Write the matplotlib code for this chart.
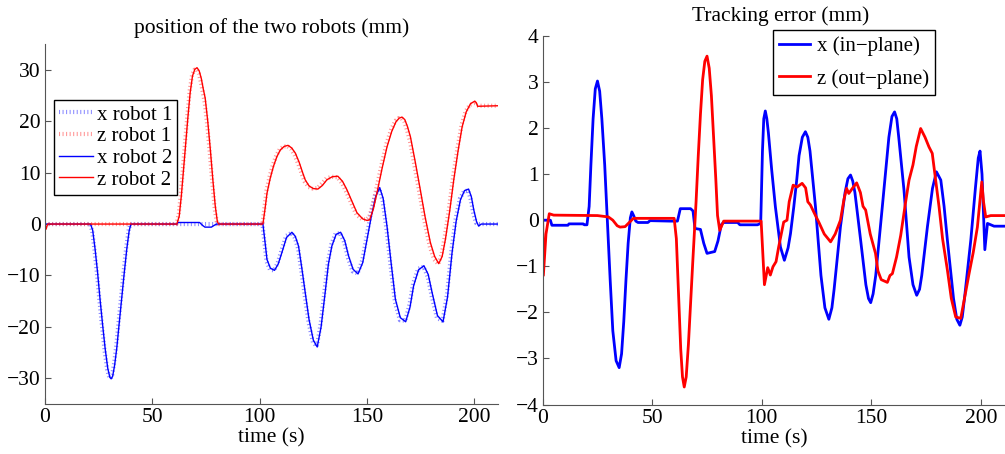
import matplotlib
matplotlib.use("Agg")
import matplotlib.pyplot as plt

plt.rcParams['font.family'] = ['Liberation Serif', 'DejaVu Serif']
plt.rcParams['axes.unicode_minus'] = True

# POSITION DATA (left panel), (time s, mm) pairs
x_robot2 = [(0, 0), (21.2, 0), (22.2, -1.2), (23.3, -4.8), (24.5, -9.5), (25.6, -14.5),
            (26.8, -19.5), (28, -24.2), (29.2, -28), (30.2, -29.8), (30.8, -30.1),
            (31.5, -29.6), (32.4, -27.5), (33.4, -24.2), (34.5, -19.5), (35.7, -14.5),
            (36.9, -9.5), (38.1, -4.8), (39.2, -1.3), (40, 0), (61.4, 0), (62, 0.3),
            (72, 0.3), (73.5, -0.3), (74.5, -0.6), (77.5, -0.6), (79, -0.2), (80, 0),
            (101.5, 0), (102.4, -3.2), (103.4, -6.9), (105, -8.6), (106.9, -9.0),
            (108.6, -7.8), (110.3, -5.6), (112.5, -2.6), (115, -1.6), (116.6, -2.4),
            (118.1, -4.3), (119.6, -8.5), (121.2, -13.3), (123, -18.6), (125, -22.6),
            (126.8, -23.9), (128.6, -20.0), (130.5, -13.3), (132, -7.8), (133.6, -4.3),
            (135.6, -2.0), (137.7, -1.6), (139.6, -3.2), (141.4, -6.2), (143.5, -8.8),
            (145.8, -9.7), (148, -7.5), (150, -3.0), (152, 1.5), (154, 5.3), (155.9, 7.1),
            (157.5, 5.0), (159.3, -0.4), (161.2, -7.5), (163.2, -14.6), (165.5, -18.2),
            (168, -19.0), (170, -16.2), (171.7, -12.0), (174, -8.9), (176.5, -8.1),
            (178.5, -9.8), (180.3, -13.3), (182.8, -17.8), (185.4, -19.0), (187.5, -14.2),
            (189.6, -5.6), (191.5, 0.5), (193.5, 4.7), (195.4, 6.5), (197.3, 6.8),
            (198.6, 5.3), (199.7, 2.8), (201, 0.5), (202, -0.4), (203.2, 0), (211, 0)]

z_robot2 = [(0, 0), (0.5, -1.0), (1.2, 0), (61.4, 0), (62.5, 1.5), (63.5, 5.5), (64.5, 10.5),
            (65.5, 15.5), (66.5, 20.5), (67.6, 25.5), (68.7, 28.8), (69.8, 30.1),
            (70.8, 30.4), (71.8, 29.8), (72.8, 28.3), (73.7, 26.3), (74.6, 24.5),
            (75.8, 20), (77, 14.5), (78.2, 8.5), (79.3, 3.5), (80.3, 0.4), (81, 0),
            (101.5, 0), (102.5, 3.0), (103.4, 6.0), (104.9, 8.9), (106.4, 11.2),
            (108, 13.1), (109.6, 14.4), (111.4, 15.1), (113.2, 15.3), (114.9, 14.8),
            (116.6, 13.8), (118.4, 12.0), (120, 10.0), (121.2, 8.6), (123, 7.4), (125, 6.9),
            (127.1, 6.8), (129.2, 7.5), (131.3, 8.6), (133.8, 9.2), (136.4, 9.3),
            (138.6, 8.3), (140.6, 6.7), (143, 4.4), (145.3, 2.2), (148, 1.0), (150, 0.7),
            (151.2, 0.8), (153, 3.0), (154.6, 6.0), (157, 10.8), (159.3, 15.0),
            (161.5, 18.0), (163.5, 19.9), (165, 20.6), (166.3, 20.8), (167.6, 20.3),
            (168.8, 19.0), (170.2, 17.0), (172.5, 12.0), (174.8, 6.7), (177, 1.5),
            (179.5, -3.6), (181.5, -6.3), (183.4, -7.7), (185, -6.3), (186.5, -3.0),
            (188.5, 2.5), (190.4, 8.6), (192.4, 14.2), (194.3, 18.9), (196.2, 21.8),
            (198.2, 23.4), (200.2, 23.9), (200.9, 23.6), (201.5, 22.9), (211, 23.0)]

x_robot1 = [(0, 0), (21.0, 0), (22.0, -1.4), (23.1, -5.2), (24.3, -10.1), (25.4, -15.1),
            (26.6, -20.1), (27.8, -24.8), (29.0, -28.4), (30.0, -29.9), (30.6, -30.0),
            (31.3, -29.3), (32.2, -27.0), (33.2, -23.6), (34.3, -18.9), (35.5, -13.9),
            (36.7, -8.9), (37.9, -4.3), (39.0, -1.0), (39.8, 0), (101.3, 0),
            (102.2, -3.6), (103.2, -7.3), (104.8, -8.9), (106.7, -9.0), (108.4, -7.5),
            (110.1, -5.2), (112.3, -2.3), (114.8, -1.7), (116.4, -2.7), (117.9, -4.8),
            (119.4, -9.1), (121.0, -14.0), (122.8, -19.2), (124.8, -23.0), (126.6, -23.8),
            (128.4, -19.4), (130.3, -12.6), (131.8, -7.3), (133.4, -3.9), (135.4, -1.8),
            (137.5, -1.8), (139.4, -3.6), (141.2, -6.7), (143.3, -9.2), (145.6, -9.6),
            (147.8, -7.0), (149.8, -2.4), (151.8, 2.1), (153.8, 5.8), (155.7, 6.9),
            (157.3, 4.4), (159.1, -1.1), (161.0, -8.2), (163.0, -15.2), (165.3, -18.7),
            (167.8, -18.8), (169.8, -15.6), (171.5, -11.5), (173.8, -8.7), (176.3, -8.3),
            (178.3, -10.3), (180.1, -14.0), (182.6, -18.3), (185.2, -18.8), (187.3, -13.5),
            (189.4, -4.8), (191.3, 1.1), (193.3, 5.0), (195.2, 6.4), (197.1, 6.5),
            (198.4, 4.6), (199.5, 2.0), (200.8, 0.2), (201.6, 0), (211, 0)]

z_robot1 = [(0, 0), (61.2, 0), (62.3, 1.9), (63.3, 6.1), (64.3, 11.2), (65.3, 16.2),
            (66.3, 21.1), (67.4, 26.0), (68.5, 29.0), (69.6, 30.0), (70.6, 30.1),
            (71.6, 29.3), (72.6, 27.6), (73.5, 25.6), (74.4, 23.6), (75.6, 19.1),
            (76.8, 13.6), (78.0, 7.7), (79.1, 2.8), (80.1, 0.2), (80.8, 0), (101.3, 0),
            (102.3, 3.5), (103.2, 6.6), (104.7, 9.4), (106.2, 11.6), (107.8, 13.4),
            (109.4, 14.6), (111.2, 15.1), (113.0, 15.1), (114.7, 14.5), (116.4, 13.3),
            (118.2, 11.4), (119.8, 9.5), (121.0, 8.2), (122.8, 7.2), (124.8, 6.9),
            (126.9, 7.0), (129.0, 7.9), (131.1, 8.9), (133.6, 9.2), (136.2, 9.1),
            (138.4, 7.9), (140.4, 6.2), (142.8, 3.9), (145.1, 1.8), (147.8, 0.9),
            (149.8, 0.9), (151.0, 1.4), (152.8, 3.8), (154.4, 7.0), (156.8, 11.6),
            (159.1, 15.7), (161.3, 18.5), (163.3, 20.1), (164.8, 20.6), (166.1, 20.5),
            (167.4, 19.8), (168.6, 18.3), (170.0, 16.1), (172.3, 10.9), (174.6, 5.6),
            (176.8, 0.5), (179.3, -4.5), (181.3, -6.9), (183.2, -7.8), (184.8, -5.8),
            (186.3, -2.2), (188.3, 3.5), (190.2, 9.5), (192.2, 15.0), (194.1, 19.4),
            (196.0, 22.0), (198.0, 23.2), (200.0, 23.3), (201.0, 23.0), (211, 23.0)]

# TRACKING ERROR DATA (right panel), (time s, mm) pairs
x_err = [(0, 0), (3.5, 0), (4.2, -0.11), (11.5, -0.11), (12, -0.08), (18.5, -0.08),
         (19, -0.1), (20.2, -0.1), (21.2, 0.3), (22, 1.2), (23, 2.2), (24, 2.85),
         (25, 3.02), (26, 2.8), (27, 2.2), (28.3, 1.2), (29.5, 0), (30.8, -1.3),
         (32, -2.4), (33.5, -3.05), (34.9, -3.2), (36, -2.9), (37, -2.2), (38, -1.3),
         (39, -0.5), (40, 0.05), (40.7, 0.18), (41.5, 0.1), (42.5, -0.02), (43.5, -0.05),
         (48, -0.05), (49, -0.01), (58, -0.02), (61.5, -0.02), (62.8, 0.25), (67.5, 0.25),
         (68.6, 0.2), (69.5, -0.18), (72, -0.2), (73.5, -0.5), (75, -0.72), (78.5, -0.68),
         (80, -0.45), (81.5, -0.1), (82.5, -0.05), (89, -0.05), (90, -0.1), (98, -0.1),
         (99.5, -0.07), (100.3, 1.5), (100.9, 2.2), (101.6, 2.37), (102.3, 2.2), (103, 1.9),
         (104.5, 1.1), (106.2, 0.29), (108.5, -0.58), (110.3, -0.87), (112, -0.6),
         (113.1, -0.29), (114.6, 0.29), (116, 0.9), (117, 1.4), (118.5, 1.8), (119.9, 1.92),
         (121, 1.8), (122, 1.5), (124.5, 0.29), (127, -1.2), (128.8, -1.9), (130.6, -2.15),
         (132, -1.9), (133, -1.5), (135.9, -0.14), (138, 0.6), (139.3, 0.9), (140.5, 0.98),
         (141.5, 0.85), (142.5, 0.6), (145.1, -0.43), (147.5, -1.4), (148.7, -1.7),
         (149.7, -1.79), (150.8, -1.6), (152, -1.2), (155, 0.29), (158, 1.8), (159.4, 2.25),
         (160.6, 2.35), (161.6, 2.2), (162.5, 1.8), (164.9, 0.65), (167.2, -0.8),
         (169, -1.4), (170.7, -1.63), (172, -1.5), (173, -1.2), (175.6, -0.14),
         (177.9, 0.69), (179.7, 1.05), (181.7, 0.87), (183.2, 0.3), (184.7, -0.43),
         (187.5, -1.7), (189, -2.15), (190.4, -2.28), (191.5, -2.1), (192.5, -1.7),
         (195.4, -0.43), (197.5, 0.7), (198.8, 1.35), (199.6, 1.5), (200.5, 1.0),
         (201.8, -0.64), (203, -0.07), (204.5, -0.1), (206, -0.13), (211, -0.13)]

z_err = [(0, 0), (0.3, -1.2), (1.5, -0.3), (3, 0.14), (5, 0.11), (25, 0.1), (30, 0.07),
         (32, 0.0), (34, -0.12), (35.3, -0.15), (37.6, -0.14), (39.5, -0.05), (41.4, 0.04),
         (60, 0.04), (61, -0.4), (62, -1.6), (63, -2.8), (63.8, -3.4), (64.6, -3.62),
         (65.5, -3.4), (66.5, -2.7), (67.5, -1.8), (68.5, -0.9), (70, 0.4), (71, 1.4),
         (72, 2.3), (73, 3.05), (74, 3.45), (75, 3.56), (76, 3.3), (77, 2.7), (78, 1.8),
         (79, 0.9), (79.8, 0.1), (80.8, -0.22), (82.6, -0.02), (99.7, -0.02), (101.2, -1.4),
         (102.7, -1.03), (103.9, -1.19), (105.1, -1.01), (106.5, -0.9), (107.7, -0.58),
         (110, -0.04), (111.5, 0.0), (112.5, 0.4), (114.3, 0.76), (116.1, 0.72),
         (118.4, 0.8), (120, 0.7), (121, 0.4), (122.2, 0.33), (124, 0.15), (126, -0.04),
         (128.5, -0.3), (131.4, -0.47), (133.5, -0.3), (135.9, 0.0), (137.5, 0.45),
         (138.7, 0.69), (139.7, 0.58), (141.5, 0.7), (143.3, 0.81), (145, 0.6),
         (146.2, 0.3), (147.4, 0.22), (149.5, -0.3), (151.9, -0.72), (153, -1.1),
         (154.5, -1.29), (157.3, -1.35), (158.5, -1.2), (159.6, -1.16), (161.5, -0.8),
         (163.4, -0.33), (165.5, 0.35), (167.2, 0.87), (169, 1.2), (170.5, 1.6),
         (172.5, 1.99), (174.5, 1.8), (176.3, 1.59), (177.8, 1.45), (179, 1.0),
         (180.9, 0.29), (182.5, -0.4), (184.7, -1.08), (186.5, -1.7), (188.5, -2.1),
         (190.8, -2.13), (192.5, -1.7), (194.6, -1.16), (196.5, -0.7), (198.4, -0.15),
         (200.4, 0.83), (201.2, 0.4), (202.2, 0.07), (204.5, 0.1), (211, 0.1)]

fig = plt.figure(figsize=(10.05, 4.54), dpi=100)
ax1 = fig.add_axes([0.0448, 0.110, 0.4507, 0.793])
ax2 = fig.add_axes([0.540, 0.109, 0.460, 0.812])

tick_style = (0, (0.25, 0.6))
ax1.plot(*zip(*x_robot1), color=(0.35, 0.35, 1.0), alpha=0.7, lw=3.0, ls=tick_style,
         dash_capstyle='butt', label='x robot 1')
ax1.plot(*zip(*z_robot1), color=(1.0, 0.4, 0.4), alpha=0.7, lw=3.0, ls=tick_style,
         dash_capstyle='butt', label='z robot 1')
ax1.plot(*zip(*x_robot2), color='blue', lw=1.0, label='x robot 2')
ax1.plot(*zip(*z_robot2), color='red', lw=1.0, label='z robot 2')

ax2.plot(*zip(*x_err), color='blue', lw=2.0, label='x (in\u2212plane)')
ax2.plot(*zip(*z_err), color='red', lw=2.0, label='z (out\u2212plane)')

ax1.set_xlim(0, 211)
ax1.set_ylim(-35, 35)
ax1.set_yticks([-30, -20, -10, 0, 10, 20, 30])
ax2.set_xlim(0, 211)
ax2.set_ylim(-4, 4)
ax2.set_yticks(range(-4, 5))

for ax in (ax1, ax2):
    ax.set_xticks([0, 50, 100, 150, 200])
    ax.spines['top'].set_visible(False)
    ax.spines['right'].set_visible(False)
    ax.spines['left'].set_color('#555555')
    ax.spines['bottom'].set_color('#555555')
    ax.tick_params(direction='in', length=4, color='#555555', labelsize=15.5, pad=3)
    ax.set_xlabel('time (s)', fontsize=15.5, labelpad=1)

ax1.set_title('position of the two robots (mm)', fontsize=15.5, pad=8)
ax2.set_title('Tracking error (mm)', fontsize=15.5, pad=11, x=0.515)

leg1 = ax1.legend(loc='upper left', bbox_to_anchor=(0.02, 0.845), fancybox=False,
                  edgecolor='black', framealpha=1, fontsize=15, labelspacing=0.1,
                  handlelength=1.6, handletextpad=0.2, borderpad=0.25, borderaxespad=0)
leg1.get_frame().set_linewidth(1.0)
leg2 = ax2.legend(loc='upper left', bbox_to_anchor=(0.498, 1.015), fancybox=False,
                  edgecolor='black', framealpha=1, fontsize=15, labelspacing=0.6,
                  handlelength=1.5, handletextpad=0.3, borderpad=0.3, borderaxespad=0)
leg2.get_frame().set_linewidth(1.0)

plt.savefig('out.png', dpi=100)
